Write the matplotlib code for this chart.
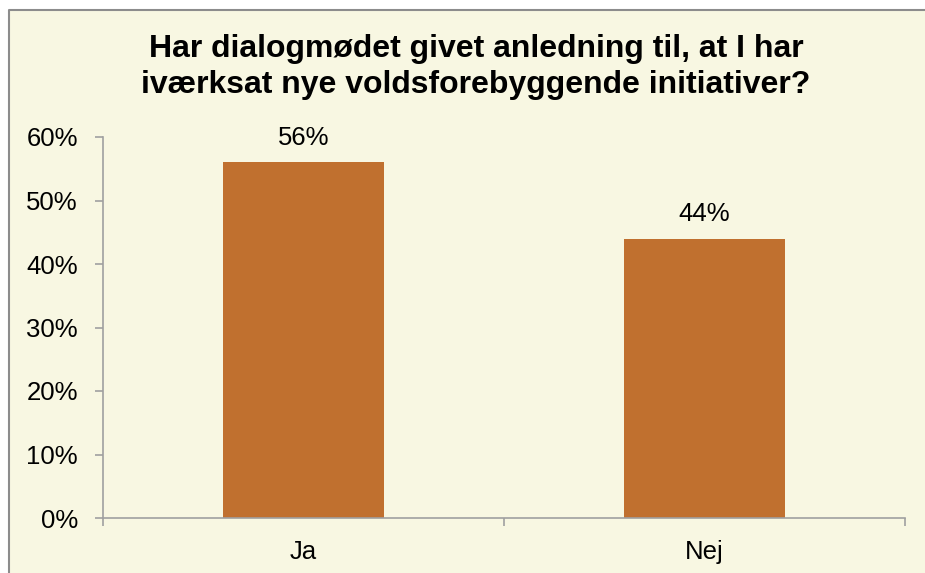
import matplotlib.pyplot as plt
from matplotlib.patches import Rectangle
from matplotlib.lines import Line2D
from matplotlib.ticker import PercentFormatter

# Data
categories = ["Ja", "Nej"]
values = [0.56, 0.44]
labels = ["56%", "44%"]
yticks = [0, 0.1, 0.2, 0.3, 0.4, 0.5, 0.6]

plt.rcParams["font.family"] = ["Liberation Sans", "DejaVu Sans"]

W, H = 925, 573
fig = plt.figure(figsize=(W / 100, H / 100), dpi=100, facecolor="white")

# chart area background, frame only on top and left
left_f, top_f = 9 / W, 1 - 10 / H
fig.patches.append(Rectangle((left_f, 0), 1 - left_f, top_f, transform=fig.transFigure,
                             facecolor="#F8F7E2", edgecolor="none", zorder=-10))
fig.lines.append(Line2D([left_f, left_f, 1], [0, top_f, top_f], transform=fig.transFigure,
                        color="#8C8C8C", linewidth=1.5, zorder=-9))

ax = fig.add_axes([103 / W, 1 - 518 / H, (905 - 103) / W, (518 - 137) / H])
ax.set_facecolor("none")

x = list(range(len(categories)))
ax.bar(x, values, width=0.4, color="#C0702F", zorder=2)

for xi, v, lab in zip(x, values, labels):
    ax.annotate(lab, (xi, v), xytext=(0, 9), textcoords="offset points",
                ha="center", va="bottom", fontsize=18.5, color="black")

ax.set_xlim(-0.5, len(categories) - 0.5)
ax.set_ylim(0, 0.6)
ax.set_yticks(yticks)
ax.yaxis.set_major_formatter(PercentFormatter(1.0, decimals=0))

ax.set_xticks(x)
ax.set_xticklabels(categories)
ax.set_xticks([-0.5, 0.5, 1.5], minor=True)

for s in ["top", "right"]:
    ax.spines[s].set_visible(False)
for s in ["left", "bottom"]:
    ax.spines[s].set_color("#A0A0A0")
    ax.spines[s].set_linewidth(1.2)

ax.tick_params(axis="y", length=6, width=1.2, color="#A0A0A0", pad=12,
               labelsize=18.5, labelcolor="black")
ax.tick_params(axis="x", which="major", length=0, pad=16, labelsize=18.5)
ax.tick_params(axis="x", which="minor", length=6, width=1.2, color="#A0A0A0")

fig.text(476 / W, 1 - 67 / H,
         "Har dialogmødet givet anledning til, at I har\niværksat nye voldsforebyggende initiativer?",
         ha="center", va="center", fontsize=23, fontweight="bold", linespacing=1.22)

plt.savefig("out.png", dpi=100, facecolor=fig.get_facecolor())
